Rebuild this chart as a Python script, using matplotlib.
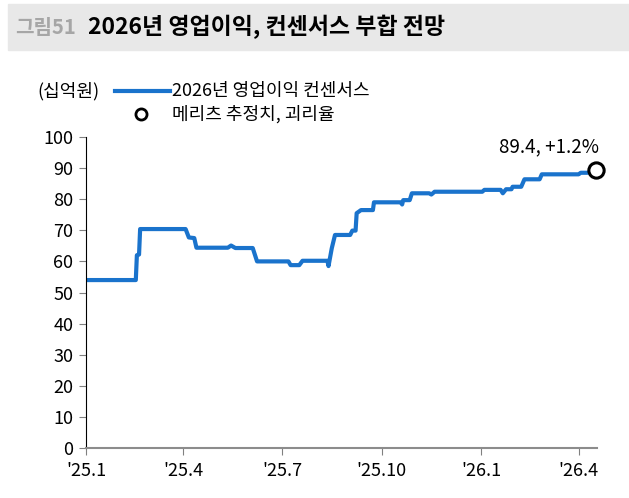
import matplotlib
matplotlib.use('Agg')
import matplotlib.pyplot as plt
from matplotlib.patches import Rectangle
import pandas as pd

plt.rcParams['font.family'] = ['Noto Sans CJK KR', 'DejaVu Sans']

# consensus path (date, KRW bn)
dates = ['2025-01-01', '2025-02-16', '2025-02-17', '2025-02-19', '2025-02-20',
         '2025-04-03', '2025-04-06', '2025-04-11', '2025-04-13', '2025-05-12',
         '2025-05-15', '2025-05-19', '2025-06-04', '2025-06-08', '2025-07-07',
         '2025-07-09', '2025-07-17', '2025-07-20', '2025-08-12', '2025-08-13',
         '2025-08-16', '2025-08-19', '2025-09-02', '2025-09-04', '2025-09-07',
         '2025-09-08', '2025-09-12', '2025-09-23', '2025-09-24', '2025-10-19',
         '2025-10-20', '2025-10-21', '2025-10-27', '2025-10-29', '2025-11-14',
         '2025-11-16', '2025-11-19', '2026-01-02', '2026-01-04', '2026-01-19',
         '2026-01-21', '2026-01-24', '2026-01-29', '2026-01-30', '2026-02-07',
         '2026-02-10', '2026-02-24', '2026-02-26', '2026-04-01', '2026-04-03',
         '2026-04-09', '2026-04-17']
consensus = [54.0, 54.0, 62.0, 62.2, 70.4,
             70.4, 67.7, 67.5, 64.4, 64.4,
             65.1, 64.3, 64.3, 60.0, 60.0,
             58.8, 58.8, 60.2, 60.2, 58.5,
             64.2, 68.5, 68.5, 69.9, 69.9,
             75.5, 76.5, 76.5, 79.0, 79.0,
             78.3, 79.7, 79.7, 81.9, 81.9,
             81.5, 82.4, 82.4, 83.0, 83.0,
             81.9, 83.2, 83.2, 84.0, 84.0,
             86.4, 86.4, 88.0, 88.0, 88.5,
             88.5, 89.0]

meritz_date = '2026-04-17'
meritz_value = 89.4
meritz_label = '89.4, +1.2%'

xticks = ['2025-01-01', '2025-04-01', '2025-07-01', '2025-10-01', '2026-01-01', '2026-04-01']
xtick_labels = ["'25.1", "'25.4", "'25.7", "'25.10", "'26.1", "'26.4"]

blue = '#1a73cc'

fig = plt.figure(figsize=(6.29, 4.98), dpi=100)

# header band
fig.patches.append(Rectangle((8 / 629, 1 - 50 / 498), 1, 46 / 498,
                             transform=fig.transFigure, color='#e8e8e8', zorder=0))
fig.text(15 / 629, 1 - 27 / 498, '그림51', color='#a6a6a6', fontsize=14.5,
         fontweight='bold', va='center')
fig.text(88 / 629, 1 - 27 / 498, '2026년 영업이익, 컨센서스 부합 전망', color='black',
         fontsize=16.5, fontweight='bold', va='center')

ax = fig.add_axes([86 / 629, 50 / 498, 511 / 629, 311 / 498])

x = pd.to_datetime(dates)
ax.plot(x, consensus, color=blue, lw=3, solid_joinstyle='round', zorder=2)
ax.plot(pd.to_datetime([meritz_date]), [meritz_value], 'o', ms=11, mfc='white',
        mec='black', mew=2.2, clip_on=False, zorder=3)
ax.annotate(meritz_label, (pd.to_datetime(meritz_date), meritz_value),
            xytext=(2, 9), textcoords='offset points', ha='right', va='bottom',
            fontsize=13.5)

ax.set_ylim(0, 100)
ax.set_yticks(range(0, 101, 10))
ax.set_xlim(pd.to_datetime('2025-01-01'), pd.to_datetime('2026-04-18'))
ax.set_xticks(pd.to_datetime(xticks))
ax.set_xticklabels(xtick_labels)

for s in ['top', 'right']:
    ax.spines[s].set_visible(False)
ax.spines['left'].set_color('black')
ax.spines['bottom'].set_color('#8c8c8c')
ax.spines['bottom'].set_linewidth(1.5)
ax.tick_params(axis='y', length=5, color='#808080', labelsize=13, pad=4)
ax.tick_params(axis='x', length=5, color='#808080', labelsize=13, pad=5)

# legend drawn by hand at top left
fig.text(37 / 629, 1 - 91 / 498, '(십억원)', fontsize=13, va='center')
fig.add_artist(plt.Line2D([115 / 629, 170 / 629], [1 - 91 / 498] * 2, color=blue,
                          lw=3, transform=fig.transFigure))
fig.text(172 / 629, 1 - 91 / 498, '2026년 영업이익 컨센서스', fontsize=13, va='center')
fig.add_artist(plt.Line2D([141 / 629], [1 - 114 / 498], marker='o', ms=8, mfc='white',
                          mec='black', mew=2, transform=fig.transFigure))
fig.text(172 / 629, 1 - 114 / 498, '메리츠 추정치, 괴리율', fontsize=13, va='center')

fig.savefig('out.png', dpi=100)
